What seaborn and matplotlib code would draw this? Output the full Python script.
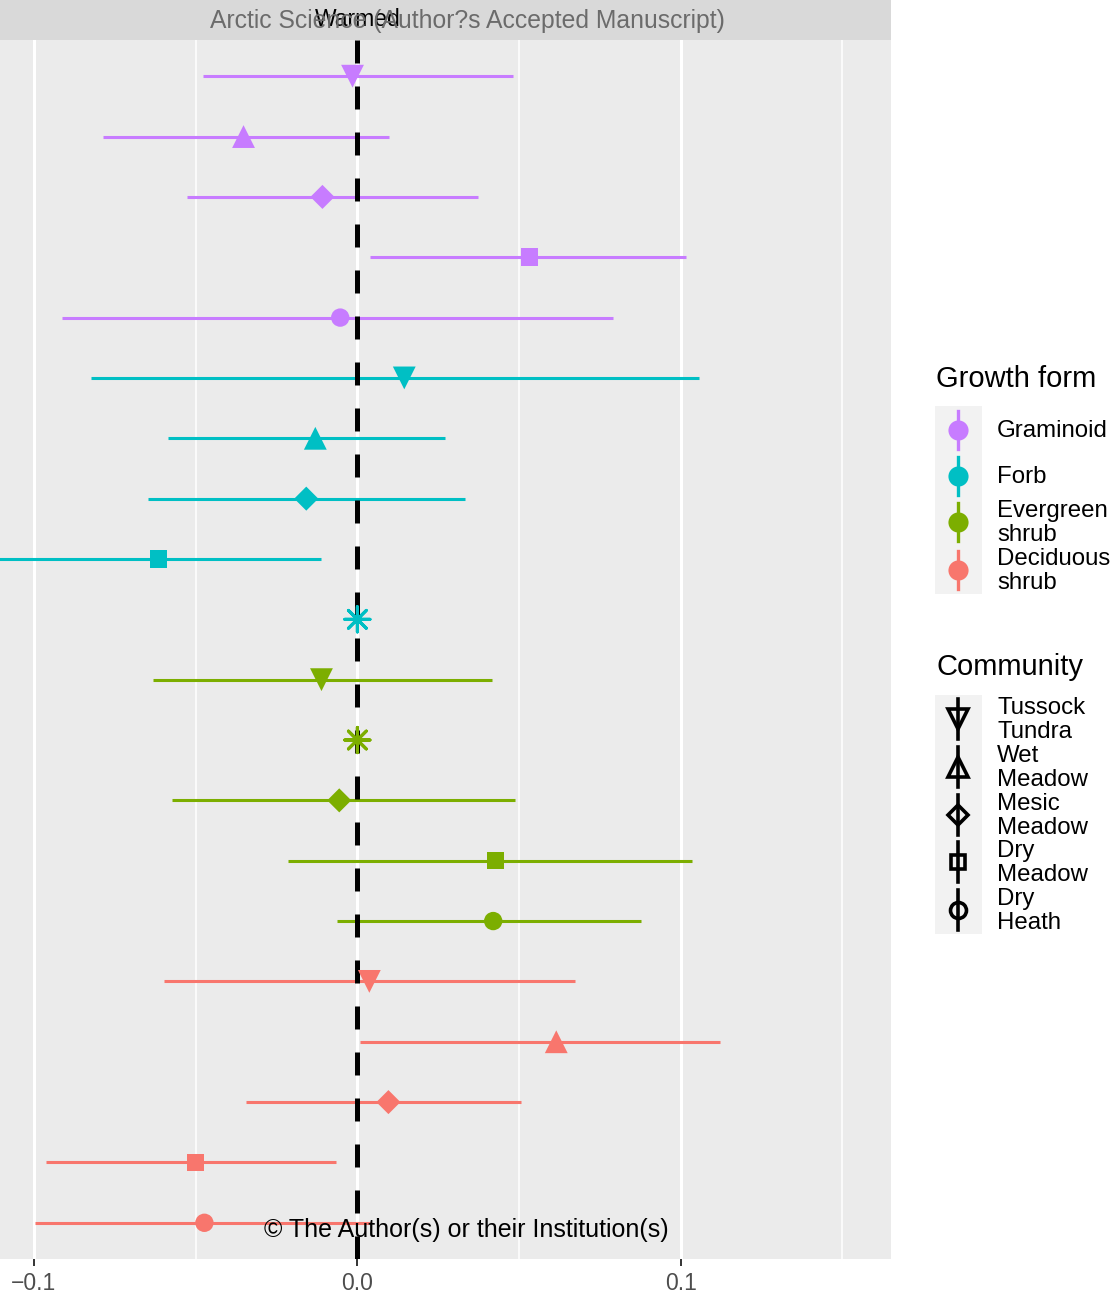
import numpy as np
import pandas as pd
import matplotlib
matplotlib.use("Agg")
import matplotlib.pyplot as plt
import seaborn as sns

# --- data ---
growth_forms = ["Graminoid", "Forb", "Evergreen shrub", "Deciduous shrub"]
communities = ["Tussock Tundra", "Wet Meadow", "Mesic Meadow", "Dry Meadow", "Dry Heath"]

row_growth = (["Graminoid"] * 5 + ["Forb"] * 5 +
              ["Evergreen shrub"] * 5 + ["Deciduous shrub"] * 5)
row_community = (communities + communities[:4] + ["none"] +
                 ["Tussock Tundra", "none"] + communities[2:] + communities)
estimate = [-0.0015, -0.0352, -0.0108, 0.0532, -0.0053,
            0.0145, -0.0130, -0.0158, -0.0615, 0.0,
            -0.0111, 0.0, -0.0056, 0.0427, 0.0420,
            0.0037, 0.0615, 0.0096, -0.0501, -0.0473]
lower = [-0.0476, -0.0788, -0.0526, 0.0040, -0.0912,
         -0.0825, -0.0587, -0.0646, -0.1150, np.nan,
         -0.0631, np.nan, -0.0572, -0.0213, -0.0062,
         -0.0597, 0.0009, -0.0343, -0.0964, -0.0998]
upper = [0.0482, 0.0099, 0.0374, 0.1017, 0.0791,
         0.1057, 0.0272, 0.0334, -0.0111, np.nan,
         0.0417, np.nan, 0.0488, 0.1036, 0.0878,
         0.0674, 0.1122, 0.0507, -0.0065, 0.0040]
x_ticks = [-0.1, 0.0, 0.1]
x_ticklabels = ["\u22120.1", "0.0", "0.1"]

palette = {"Graminoid": "#C77CFF", "Forb": "#00BFC4",
           "Evergreen shrub": "#7CAE00", "Deciduous shrub": "#F8766D"}
markers = {"Tussock Tundra": "v", "Wet Meadow": "^", "Mesic Meadow": "D",
           "Dry Meadow": "s", "Dry Heath": "o"}
sizes = {"Tussock Tundra": 270, "Wet Meadow": 270, "Mesic Meadow": 150,
         "Dry Meadow": 160, "Dry Heath": 175}

df = pd.DataFrame({"growth": row_growth, "community": row_community,
                   "est": estimate, "lo": lower, "hi": upper})
df["row"] = np.arange(len(df))

W, H = 1112, 1293
fig = plt.figure(figsize=(W / 100, H / 100), dpi=100)
plt.rcParams["font.family"] = ["Liberation Sans", "DejaVu Sans"]

def px_axes(x0, y0, x1, y1):
    return fig.add_axes([x0 / W, 1 - y1 / H, (x1 - x0) / W, (y1 - y0) / H])

ax = px_axes(0, 40, 891, 1259)
ax.set_facecolor("#EBEBEB")
for s in ax.spines.values():
    s.set_visible(False)

# grid
for v in [-0.05, 0.05, 0.15]:
    ax.axvline(v, color="white", lw=1.1, zorder=0)
for v in x_ticks:
    ax.axvline(v, color="white", lw=2.2, zorder=0)

# confidence intervals
ci = df.dropna(subset=["lo"])
ax.hlines(ci["row"], ci["lo"], ci["hi"], colors=ci["growth"].map(palette),
          lw=2.2, zorder=2)

# reference line at 0
ax.plot([0, 0], [19.6, -0.6], color="black", lw=3.6, dashes=(4.6, 4.6),
        zorder=2.5, solid_capstyle="butt", dash_capstyle="butt")

pts = df[df["community"] != "none"]
sns.scatterplot(data=pts, x="est", y="row", hue="growth", palette=palette,
                style="community", markers=markers, size="community",
                sizes=sizes, linewidth=0, legend=False, ax=ax, zorder=3)
miss = df[df["community"] == "none"]
sns.scatterplot(data=miss, x="est", y="row", hue="growth", palette=palette,
                marker=(8, 2, 0), s=330, linewidth=2.2, legend=False, ax=ax,
                zorder=3)

ax.set_xlim(-0.1105, 0.165)
ax.set_ylim(19.6, -0.6)
ax.set_yticks([])
ax.set_xticks(x_ticks)
ax.set_xticklabels(x_ticklabels)
ax.tick_params(axis="x", length=5, width=1.4, color="#333333",
               labelsize=16.5, labelcolor="#4D4D4D", pad=4)
ax.set_xlabel("")
ax.set_ylabel("")

# facet strip
strip = px_axes(0, 0, 891, 40)
strip.set_facecolor("#D9D9D9")
strip.set_xticks([])
strip.set_yticks([])
for s in strip.spines.values():
    s.set_visible(False)

# overlay for legends / watermark text (pixel coordinates)
lax = fig.add_axes([0, 0, 1, 1], facecolor="none")
lax.set_xlim(0, W)
lax.set_ylim(H, 0)
lax.axis("off")

lax.text(358, 19, "Warmed", fontsize=16.5, ha="center", va="center")
lax.text(467, 21, "Arctic Science (Author?s Accepted Manuscript)",
         fontsize=17.8, color="#6B6B6B", ha="center", va="center")
lax.text(466, 1230, "\u00a9 The Author(s) or their Institution(s)",
         fontsize=18, color="black", ha="center", va="center")

# legend: growth form
lax.text(936, 379, "Growth form", fontsize=21, ha="left", va="center")
lax.add_patch(plt.Rectangle((935, 406), 47, 188, color="#F2F2F2", lw=0))
gf_y = [430, 476, 522, 570]
gf_lab = ["Graminoid", "Forb", "Evergreen\nshrub", "Deciduous\nshrub"]
for g, yy, lab in zip(growth_forms, gf_y, gf_lab):
    lax.plot([958, 958], [yy - 19, yy + 19], color=palette[g], lw=2.4)
    lax.plot(958, yy, marker="o", ms=14.5, color=palette[g], mew=0)
    lax.text(997, yy + 1, lab, fontsize=17.3, ha="left", va="center",
             linespacing=1.12)

# legend: community
lax.text(936, 667, "Community", fontsize=21, ha="left", va="center")
lax.add_patch(plt.Rectangle((935, 695), 47, 239, color="#F2F2F2", lw=0))
cm_y = [719, 767, 815, 862, 910]
cm_lab = ["Tussock\nTundra", "Wet\nMeadow", "Mesic\nMeadow", "Dry\nMeadow",
          "Dry\nHeath"]
cm_ms = {"v": 14, "^": 14, "D": 10, "s": 9.5, "o": 11.5}
for c, yy, lab in zip(communities, cm_y, cm_lab):
    m = markers[c]
    lax.plot([958, 958], [yy - 20, yy + 20], color="black", lw=2.6)
    lax.plot(958, yy, marker=m, ms=cm_ms[m], mfc="none", mec="black", mew=2.6)
    lax.text(997, yy + 1, lab, fontsize=17.3, ha="left", va="center",
             linespacing=1.08)

fig.savefig("out.png", dpi=100)
